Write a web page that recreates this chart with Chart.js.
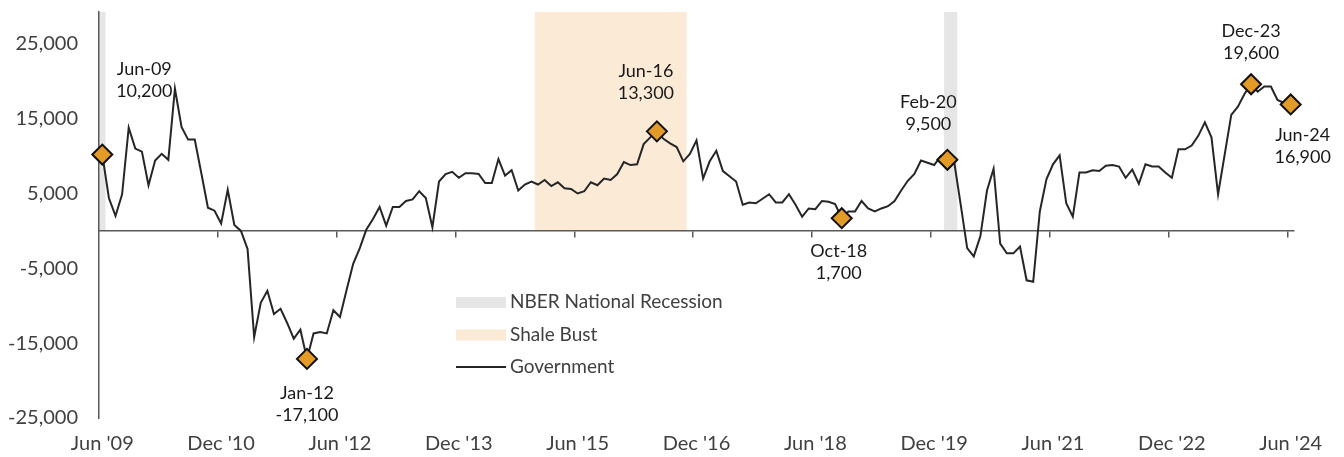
<!DOCTYPE html>
<html>
<head>
<meta charset="utf-8">
<script src="https://cdn.jsdelivr.net/npm/chart.js@4/dist/chart.umd.min.js"></script>
<style>
  html, body { margin: 0; padding: 0; background: #fff; }
  #wrap { position: relative; width: 1344px; height: 457px; }
</style>
</head>
<body>
<div id="wrap"><canvas id="chart"></canvas></div>
<script>
// monthly change, Jun 2009 .. Jun 2024
const government = [
  10200, 4400, 2000, 4900, 13800, 11000, 10600, 6100, 9400, 10300, 9500, 19000,
  13900, 12200, 12200, 7700, 3100, 2700, 1000, 5500, 800, 0, -2400, -14200,
  -9600, -8000, -11100, -10400, -12300, -14400, -13200, -17100, -13700, -13500, -13700, -10600,
  -11500, -7900, -4400, -2300, 200, 1600, 3200, 700, 3200, 3200, 4000, 4200,
  5300, 4400, 500, 6600, 7600, 7900, 7100, 7700, 7700, 7600, 6400, 6400,
  9600, 7400, 8100, 5400, 6200, 6600, 6200, 6800, 6000, 6500, 5700, 5600,
  5000, 5300, 6500, 6100, 7000, 6800, 7600, 9200, 8800, 8900, 11600, 12500,
  13300, 12300, 11700, 11200, 9300, 10300, 12100, 7000, 9300, 10700, 8000, 7300,
  6600, 3500, 3800, 3700, 4300, 4900, 3800, 3800, 4900, 3500, 1900, 3000,
  2900, 4000, 3900, 3600, 1700, 2600, 2600, 4000, 3000, 2600, 3000, 3300,
  4000, 5400, 6700, 7600, 9400, 9100, 8800, 10000, 9500, 9400, 3600, -2300,
  -3400, -700, 5400, 8300, -1700, -3000, -3000, -2100, -6600, -6800, 2600, 6900,
  8900, 10100, 3700, 1900, 7800, 7800, 8100, 8000, 8700, 8800, 8600, 7100,
  8200, 6300, 8900, 8600, 8600, 7800, 7100, 10900, 10900, 11400, 12700, 14500,
  12500, 4900, 10200, 15500, 16600, 18300, 19600, 18600, 19300, 19300, 17500, 17100,
  16900
];

const xTickLabels = ["Jun '09", "Dec '10", "Jun '12", "Dec '13", "Jun '15", "Dec '16",
  "Jun '18", "Dec '19", "Jun '21", "Dec '22", "Jun '24"];
const yTickValues = [-25000, -15000, -5000, 5000, 15000, 25000];

const annotMonths = ['Jun-09', 'Jan-12', 'Jun-16', 'Oct-18', 'Feb-20', 'Dec-23', 'Jun-24'];

const recessionStart = ['Jun-09', 'Feb-20'];
const recessionEnd = ['Jun-09', 'Mar-20'];
const shaleStart = ['Dec-14'];
const shaleEnd = ['Oct-16'];

// month categories
const monthNames = ['Jan','Feb','Mar','Apr','May','Jun','Jul','Aug','Sep','Oct','Nov','Dec'];
const months = [];
for (let i = 0; i < government.length; i++) {
  const m = 5 + i;
  const yy = (2009 + Math.floor(m / 12)) % 100;
  months.push(monthNames[m % 12] + '-' + String(yy).padStart(2, '0'));
}
const axisLabel = (lbl) => lbl.replace('-', " '");

const markers = months.map((m, i) => annotMonths.includes(m) ? government[i] : null);

// label placement around each marker (pixels)
const annotOffsets = {
  'Jun-09': [42, -85], 'Jan-12': [0, 34], 'Jun-16': [-11, -60], 'Oct-18': [-3, 33],
  'Feb-20': [-19, -58], 'Dec-23': [0, -53], 'Jun-24': [12, 31]
};

const FONT = 'Lato, "Noto Sans", sans-serif';
const textColor = '#404040';
const axisColor = '#595959';
const recessionColor = '#e6e6e6';
const shaleColor = '#faead6';

const bandsPlugin = {
  id: 'bands',
  beforeDraw(chart) {
    const { ctx, chartArea, scales: { x, y } } = chart;
    const half = (x.getPixelForValue(1) - x.getPixelForValue(0)) / 2;
    const y0 = y.getPixelForValue(0);
    const fill = (starts, ends, color) => {
      starts.forEach((s, k) => {
        const a = x.getPixelForValue(months.indexOf(s)) - half;
        const b = x.getPixelForValue(months.indexOf(ends[k])) + half;
        ctx.fillStyle = color;
        ctx.fillRect(a, chartArea.top, b - a, y0 - chartArea.top);
      });
    };
    ctx.save();
    fill(recessionStart, recessionEnd, recessionColor);
    fill(shaleStart, shaleEnd, shaleColor);
    ctx.restore();
  }
};

const annotPlugin = {
  id: 'annots',
  afterDatasetsDraw(chart) {
    const { ctx } = chart;
    const meta = chart.getDatasetMeta(1);
    ctx.save();
    ctx.font = '18px ' + FONT;
    ctx.fillStyle = '#1a1a1a';
    ctx.textAlign = 'center';
    ctx.textBaseline = 'middle';
    annotMonths.forEach(m => {
      const i = months.indexOf(m);
      const pt = meta.data[i];
      const [dx, dy] = annotOffsets[m];
      ctx.fillText(m, pt.x + dx, pt.y + dy);
      ctx.fillText(government[i].toLocaleString('en-US'), pt.x + dx, pt.y + dy + 22);
    });
    ctx.restore();
  }
};

const legendPlugin = {
  id: 'boxLegend',
  afterDraw(chart) {
    const { ctx } = chart;
    const lx = 456, ly = 302, gap = 32.5;
    ctx.save();
    ctx.fillStyle = recessionColor;
    ctx.fillRect(lx, ly - 5, 50, 11);
    ctx.fillStyle = shaleColor;
    ctx.fillRect(lx, ly + gap - 5, 50, 11);
    ctx.strokeStyle = '#262626';
    ctx.lineWidth = 2;
    ctx.beginPath();
    ctx.moveTo(lx, ly + 2 * gap);
    ctx.lineTo(lx + 50, ly + 2 * gap);
    ctx.stroke();
    ctx.font = '19px ' + FONT;
    ctx.fillStyle = textColor;
    ctx.textBaseline = 'middle';
    ctx.fillText('NBER National Recession', lx + 54, ly);
    ctx.fillText('Shale Bust', lx + 54, ly + gap);
    ctx.fillText('Government', lx + 54, ly + 2 * gap);
    ctx.restore();
  }
};

new Chart(document.getElementById('chart'), {
  type: 'line',
  data: {
    labels: months,
    datasets: [
      {
        label: 'Government',
        data: government,
        borderColor: '#262626',
        borderWidth: 2,
        pointRadius: 0,
        tension: 0,
        order: 2
      },
      {
        label: 'Markers',
        data: markers,
        showLine: false,
        pointStyle: 'rectRot',
        pointRadius: 10,
        pointHoverRadius: 10,
        pointBackgroundColor: '#e39b27',
        pointBorderColor: '#111',
        pointBorderWidth: 2,
        clip: false,
        order: 1
      }
    ]
  },
  options: {
    responsive: true,
    maintainAspectRatio: false,
    animation: false,
    events: [],
    layout: { padding: { top: 10, right: 50, bottom: 0, left: 0 } },
    plugins: {
      legend: { display: false },
      tooltip: { enabled: false }
    },
    scales: {
      x: {
        type: 'category',
        position: { y: 0 },
        offset: true,
        grid: {
          offset: true,
          drawOnChartArea: false,
          drawTicks: true,
          tickLength: 6,
          lineWidth: 1.5,
          color: c => (c.tick && xTickLabels.includes(axisLabel(months[c.index])) && c.index > 0) ? axisColor : 'rgba(0,0,0,0)'
        },
        border: { display: true, color: axisColor, width: 1.5 },
        ticks: { display: false, autoSkip: false },
        afterFit: s => { s.paddingLeft = 0; s.paddingRight = 0; }
      },
      x2: {
        type: 'category',
        position: 'bottom',
        offset: true,
        grid: { display: false, drawTicks: false },
        border: { display: false },
        ticks: {
          autoSkip: false,
          maxRotation: 0,
          padding: 14,
          color: textColor,
          font: { family: FONT, size: 20 },
          callback: (v, i) => {
            const t = axisLabel(months[i]);
            return xTickLabels.includes(t) ? t : '';
          }
        },
        afterFit: s => { s.height = 39; s.paddingLeft = 0; s.paddingRight = 0; }
      },
      y: {
        min: -25000,
        max: 29250,
        grid: { display: false, drawTicks: false },
        border: { display: true, color: axisColor, width: 1.5 },
        ticks: {
          padding: 21,
          color: textColor,
          font: { family: FONT, size: 20 },
          callback: v => v.toLocaleString('en-US')
        },
        afterBuildTicks: s => { s.ticks = yTickValues.map(v => ({ value: v })); },
        afterFit: s => { s.width = 99; s.paddingTop = 0; s.paddingBottom = 0; }
      }
    }
  },
  plugins: [bandsPlugin, annotPlugin, legendPlugin]
});
</script>
</body>
</html>
